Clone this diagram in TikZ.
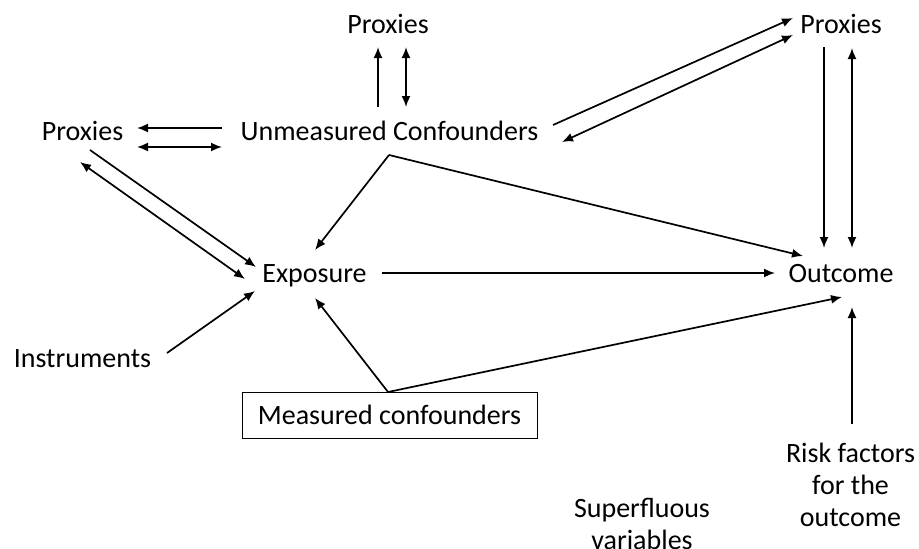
\documentclass[tikz,border=0pt]{standalone}
\usepackage{fontspec}
\setmainfont{Carlito}
\usetikzlibrary{arrows.meta}
\begin{document}
\begin{tikzpicture}[x=1pt,y=-1pt,
  lab/.style={anchor=base,inner sep=0pt,font=\fontsize{28}{32}\selectfont,align=center},
  boxed/.style={draw,line width=1pt,inner sep=0pt,minimum width=295pt,minimum height=46pt,font=\fontsize{28}{32}\selectfont},
  arr/.style={line width=1.7pt,-{Latex[length=11pt,width=9pt]}},
  darr/.style={line width=1.7pt,{Latex[length=11pt,width=9pt]}-{Latex[length=11pt,width=9pt]}}]
\clip (0,0) rectangle (919,549);
\fill[white] (0,0) rectangle (919,549);
% nodes
\node[lab] (ptop) at (388,33) {Proxies};
\node[lab] (pleft) at (82.5,140) {Proxies};
\node[lab] (unm) at (389.5,140) {Unmeasured Confounders};
\node[lab] (pright) at (841,33) {Proxies};
\node[lab] (expo) at (314.5,282) {Exposure};
\node[lab] (outc) at (841,282) {Outcome};
\node[lab] (instr) at (82.5,367) {Instruments};
\node[boxed] (meas) at (389.5,415) {Measured confounders};
\node[lab] (risk) at (850.5,526) {Risk factors\\for the\\outcome};
\node[lab] (superf) at (642,549) {Superfluous\\variables};
% endpoints
\coordinate (ulA) at (222,128); \coordinate (plA) at (137,128);
\coordinate (ulB) at (222,147); \coordinate (plB) at (137,147);
\coordinate (utA) at (378,107); \coordinate (ptA) at (378,47);
\coordinate (utB) at (406,107); \coordinate (ptB) at (406,47);
\coordinate (urA) at (553,125); \coordinate (prA) at (793,18);
\coordinate (urB) at (562,142); \coordinate (prB) at (793,35);
\coordinate (plC) at (90,150);  \coordinate (exC) at (256,267);
\coordinate (plD) at (80,162);  \coordinate (exD) at (245,279);
\coordinate (prC) at (824,47);  \coordinate (ocC) at (824,248);
\coordinate (prD) at (852,48);  \coordinate (ocD) at (852,248);
\coordinate (ubot) at (389,155);
\coordinate (exU) at (315,250); \coordinate (ocU) at (803,256);
\coordinate (exR) at (382,273); \coordinate (ocL) at (775,273);
\coordinate (inR) at (167,353); \coordinate (exI) at (255,291);
\coordinate (mtop) at (388,392);
\coordinate (exM) at (315,298); \coordinate (ocM) at (842,297);
\coordinate (rtop) at (852,424); \coordinate (ocR) at (852,307);
% connectors
\draw[arr] (ulA) -- (plA);
\draw[darr] (plB) -- (ulB);
\draw[arr] (utA) -- (ptA);
\draw[darr] (ptB) -- (utB);
\draw[arr] (urA) -- (prA);
\draw[darr] (urB) -- (prB);
\draw[arr] (plC) -- (exC);
\draw[darr] (plD) -- (exD);
\draw[arr] (prC) -- (ocC);
\draw[darr] (prD) -- (ocD);
\draw[arr] (ubot) -- (exU);
\draw[arr] (ubot) -- (ocU);
\draw[arr] (exR) -- (ocL);
\draw[arr] (inR) -- (exI);
\draw[arr] (mtop) -- (exM);
\draw[arr] (mtop) -- (ocM);
\draw[arr] (rtop) -- (ocR);
\end{tikzpicture}
\end{document}
